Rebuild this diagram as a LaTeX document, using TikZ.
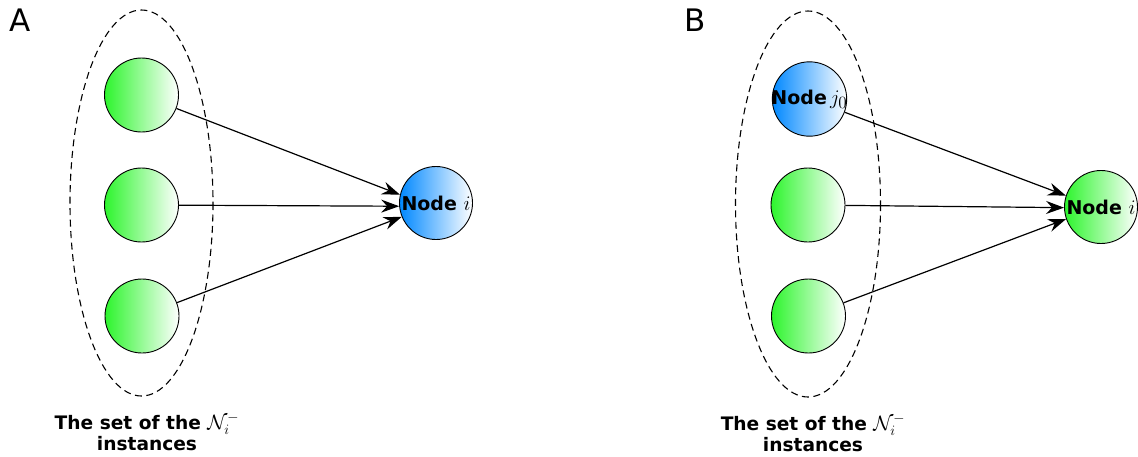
\documentclass[tikz,border=0pt]{standalone}
\usepackage{fontspec}
\setmainfont{DejaVu Sans}
\usetikzlibrary{arrows.meta}
\definecolor{greenL}{RGB}{45,245,45}
\definecolor{blueL}{RGB}{0,136,255}
\newcommand{\mybigmath}[1]{\scalebox{1.2}{$#1$}}
\tikzset{
  inst/.style={circle,draw=black,line width=0.9pt,minimum size=74pt,inner sep=0pt,left color=greenL,right color=white},
  blueinst/.style={inst,left color=blueL,right color=white},
  target/.style={inst,minimum size=73pt},
  edge/.style={line width=1.2pt,-{Stealth[length=18pt,width=13pt,inset=6pt]}},
  setring/.style={draw=black,dash pattern=on 7pt off 4.5pt,line width=1.1pt},
  settext/.style={align=center,font=\bfseries\fontsize{18.6}{21}\selectfont},
  nodetext/.style={font=\bfseries\fontsize{19}{20}\selectfont},
  panel/.style={font=\fontsize{31}{34}\selectfont,inner sep=0pt}
}
\begin{document}
\begin{tikzpicture}[x=1pt,y=-1pt]
\useasboundingbox (0,0) rectangle (1138,456);
% Panel A
\node[panel,anchor=north west] (labA) at (9,9) {A};
\draw[setring] (141.5,203) ellipse [x radius=71.5, y radius=193];
\node[inst] (a1) at (141.5,95) {};
\node[inst] (a2) at (141.5,205) {};
\node[inst] (a3) at (142,316) {};
\node[target,left color=blueL,right color=white,nodetext] (ai) at (436,203) {Node \mybigmath{i}};
\draw[edge] (a1) -- (ai.167);
\draw[edge] (a2) -- (ai.185);
\draw[edge] (a3) -- (ai.202);
\node[settext] (setA) at (147,432) {The set of the \mybigmath{\mathcal{N}_i^-}\\instances};
% Panel B
\node[panel,anchor=north west] (labB) at (684,9) {B};
\draw[setring] (808,204) ellipse [x radius=72.5, y radius=193];
\node[blueinst,nodetext] (b1) at (809.5,99) {\hspace*{-2pt}Node\,\mybigmath{j_0}\hspace*{-2pt}};
\node[inst] (b2) at (808,205) {};
\node[inst] (b3) at (808.5,316) {};
\node[target,nodetext] (bi) at (1101,207) {Node \mybigmath{i}};
\draw[edge] (b1) -- (bi.162);
\draw[edge] (b2) -- (bi.181);
\draw[edge] (b3) -- (bi.199);
\node[settext] (setB) at (813,433) {The set of the \mybigmath{\mathcal{N}_i^-}\\instances};
\end{tikzpicture}
\end{document}
